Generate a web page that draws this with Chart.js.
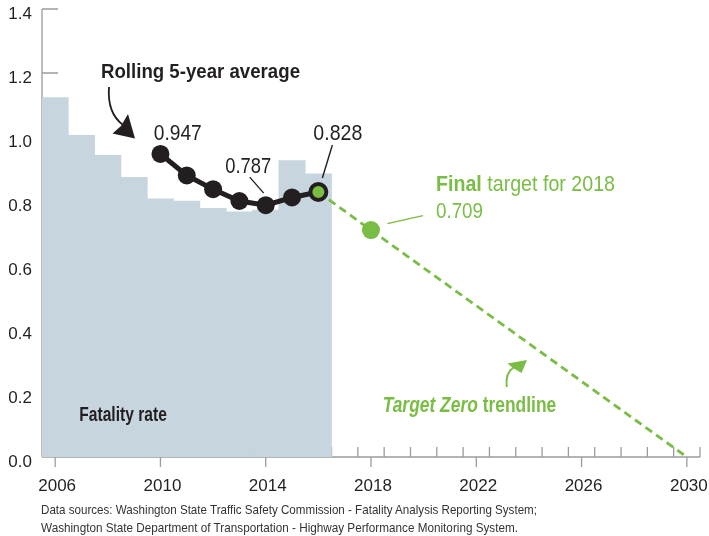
<!DOCTYPE html>
<html>
<head>
<meta charset="utf-8">
<script src="https://cdn.jsdelivr.net/npm/chart.js@4.4.1/dist/chart.umd.min.js"></script>
<style>
html,body{margin:0;padding:0;background:#fff;}
#wrap{position:relative;width:709px;height:536px;overflow:hidden;}
#c{position:absolute;left:0;top:0;}
.note{position:absolute;left:41px;font-family:'Liberation Sans',Arial,sans-serif;font-size:13.5px;color:#333;white-space:nowrap;line-height:1;transform-origin:0 0;}
</style>
</head>
<body>
<div id="wrap">
<canvas id="c" width="709" height="536"></canvas>
<span class="note" id="n1" data-w="496" style="top:503px">Data sources: Washington State Traffic Safety Commission - Fatality Analysis Reporting System;</span>
<span class="note" id="n2" data-w="477" style="top:521px">Washington State Department of Transportation - Highway Performance Monitoring System.</span>
</div>
<script>
// ---- data ----
const years = [2006, 2007, 2008, 2009, 2010, 2011, 2012, 2013, 2014, 2015, 2016];
const fatalityRate = [1.123, 1.005, 0.943, 0.874, 0.807, 0.800, 0.777, 0.766, 0.772, 0.926, 0.885];
const avgYears = [2010, 2011, 2012, 2013, 2014, 2015, 2016];
const rollingAverage = [0.947, 0.880, 0.837, 0.800, 0.787, 0.811, 0.828];
const targetYears = [2016, 2018, 2030];
const targetValues = [0.828, 0.709, 0];
const xTickLabels = [2006, 2010, 2014, 2018, 2022, 2026, 2030];
const yTickValues = [0, 0.2, 0.4, 0.6, 0.8, 1.0, 1.2, 1.4];

// ---- styles ----
const GREEN = '#79bd44';
const DARK = '#231f20';
const BAR = '#c6d5de';
const AXIS = '#9c9c9c';
const SANS = "'Liberation Sans',Arial,Helvetica,sans-serif";

function fitText(ctx, parts, x, y, width, color) {
  let total = 0;
  parts.forEach(p => { ctx.font = p.font; p.w = ctx.measureText(p.text).width; total += p.w; });
  const sx = width / total;
  ctx.save();
  ctx.translate(x, y);
  ctx.scale(sx, 1);
  ctx.fillStyle = color;
  ctx.textAlign = 'left';
  ctx.textBaseline = 'alphabetic';
  let cx = 0;
  parts.forEach(p => { ctx.font = p.font; ctx.fillText(p.text, cx, 0); cx += p.w; });
  ctx.restore();
}

function noPad(s) {
  s.paddingLeft = 0; s.paddingRight = 0; s.paddingTop = 0; s.paddingBottom = 0;
}

const axisPlugin = {
  id: 'axisPlugin',
  beforeDatasetsDraw(chart) {
    const ctx = chart.ctx, xs = chart.scales.x, ys = chart.scales.y;
    const a = chart.chartArea;
    ctx.save();
    ctx.strokeStyle = AXIS;
    ctx.lineWidth = 1.3;
    ctx.beginPath();
    ctx.moveTo(a.left, a.top); ctx.lineTo(a.left, a.bottom);
    yTickValues.forEach(v => { const y = ys.getPixelForValue(v); ctx.moveTo(a.left, y); ctx.lineTo(a.left + 16, y); });
    const y0 = ys.getPixelForValue(0);
    ctx.moveTo(a.left, y0); ctx.lineTo(a.right, y0);
    xTickLabels.forEach(v => { const x = xs.getPixelForValue(v); ctx.moveTo(x, y0); ctx.lineTo(x, y0 + 10); });
    for (let v = xs.min; v <= xs.max + 0.001; v += 1) {
      const x = xs.getPixelForValue(v); ctx.moveTo(x, y0); ctx.lineTo(x, y0 - 10);
    }
    ctx.stroke();
    ctx.restore();
  }
};

const annotationPlugin = {
  id: 'annotationPlugin',
  afterDatasetsDraw(chart) {
    const ctx = chart.ctx, xs = chart.scales.x, ys = chart.scales.y;
    const px = v => xs.getPixelForValue(v), py = v => ys.getPixelForValue(v);
    ctx.save();
    fitText(ctx, [{text: 'Rolling 5-year average', font: 'bold 20.5px ' + SANS}], 101, 78, 199, DARK);
    ctx.strokeStyle = DARK; ctx.fillStyle = DARK; ctx.lineWidth = 1.8;
    ctx.beginPath(); ctx.moveTo(109, 87); ctx.quadraticCurveTo(107, 113, 123, 125); ctx.stroke();
    ctx.beginPath(); ctx.moveTo(135, 138.5); ctx.lineTo(112.5, 133.5); ctx.lineTo(121, 126); ctx.lineTo(128, 114); ctx.closePath(); ctx.fill();

    const first = 0, low = 4, last = rollingAverage.length - 1;
    const lx0 = px(avgYears[first]), ly0 = py(rollingAverage[first]);
    fitText(ctx, [{text: rollingAverage[first].toFixed(3), font: '22px ' + SANS}], lx0 - 6.7, ly0 - 14, 48, DARK);
    const lx1 = px(avgYears[low]), ly1 = py(rollingAverage[low]);
    fitText(ctx, [{text: rollingAverage[low].toFixed(3), font: '22px ' + SANS}], lx1 - 40.5, ly1 - 32, 46, DARK);
    ctx.lineWidth = 1.4; ctx.strokeStyle = DARK;
    ctx.beginPath(); ctx.moveTo(lx1 - 16, ly1 - 28); ctx.lineTo(lx1 - 2, ly1 - 12); ctx.stroke();
    const lx2 = px(avgYears[last]), ly2 = py(rollingAverage[last]);
    fitText(ctx, [{text: rollingAverage[last].toFixed(3), font: '22px ' + SANS}], lx2 - 5, ly2 - 52, 49, DARK);
    ctx.beginPath(); ctx.moveTo(lx2 + 14, ly2 - 47); ctx.lineTo(lx2 + 4, ly2 - 14); ctx.stroke();

    const tx = px(targetYears[1]), ty = py(targetValues[1]);
    fitText(ctx, [{text: 'Final', font: 'bold 22px ' + SANS}, {text: ' target for ' + targetYears[1], font: '22px ' + SANS}], tx + 65, ty - 39, 179, GREEN);
    fitText(ctx, [{text: targetValues[1].toFixed(3), font: '22px ' + SANS}], tx + 65, ty - 12.3, 47, GREEN);
    ctx.strokeStyle = GREEN; ctx.lineWidth = 1.5;
    ctx.beginPath(); ctx.moveTo(tx + 16.5, ty - 6.5); ctx.lineTo(tx + 52, ty - 14.5); ctx.stroke();

    fitText(ctx, [{text: 'Target Zero', font: 'italic bold 22px ' + SANS}, {text: ' trendline', font: 'bold 22px ' + SANS}], 382.7, 411.5, 173.5, GREEN);
    ctx.strokeStyle = GREEN; ctx.fillStyle = GREEN; ctx.lineWidth = 2;
    ctx.beginPath(); ctx.moveTo(506.7, 387); ctx.quadraticCurveTo(505, 373, 513.5, 367.5); ctx.stroke();
    ctx.beginPath(); ctx.moveTo(527, 360); ctx.lineTo(507.5, 363.5); ctx.lineTo(513, 368); ctx.lineTo(521.5, 373); ctx.closePath(); ctx.fill();

    fitText(ctx, [{text: 'Fatality rate', font: 'bold 20px ' + SANS}], 79.3, 421, 87.5, DARK);
    ctx.restore();
  }
};

const ctx = document.getElementById('c').getContext('2d');
const chart = new Chart(ctx, {
  type: 'bar',
  data: {
    datasets: [
      {
        type: 'line',
        label: 'Rolling 5-year average',
        data: avgYears.map((x, i) => ({x, y: rollingAverage[i]})),
        borderColor: DARK,
        borderWidth: 5,
        pointRadius: avgYears.map((x, i) => i === avgYears.length - 1 ? 8 : 9),
        pointBackgroundColor: avgYears.map((x, i) => i === avgYears.length - 1 ? GREEN : DARK),
        pointBorderColor: DARK,
        pointBorderWidth: avgYears.map((x, i) => i === avgYears.length - 1 ? 4 : 0),
        tension: 0,
        order: 1
      },
      {
        type: 'line',
        label: 'Target Zero trendline',
        data: targetYears.map((x, i) => ({x, y: targetValues[i]})),
        borderColor: GREEN,
        borderWidth: 2.8,
        borderDash: [8, 5],
        pointRadius: targetYears.map((x, i) => i === 1 ? 9 : 0),
        pointBackgroundColor: GREEN,
        pointBorderWidth: 0,
        tension: 0,
        order: 2
      },
      {
        type: 'bar',
        label: 'Fatality rate',
        data: years.map((x, i) => ({x, y: fatalityRate[i]})),
        backgroundColor: BAR,
        borderWidth: 0,
        barPercentage: 1,
        categoryPercentage: 1,
        order: 3
      }
    ]
  },
  options: {
    responsive: false,
    animation: false,
    layout: { autoPadding: false, padding: { top: 9, right: 9, left: 0, bottom: 0 } },
    plugins: { legend: { display: false }, tooltip: { enabled: false } },
    scales: {
      x: {
        type: 'linear',
        min: years[0] - 0.5,
        max: xTickLabels[xTickLabels.length - 1] + 0.5,
        offset: false,
        grid: { display: false, drawTicks: false },
        border: { display: false },
        afterBuildTicks: s => { s.ticks = xTickLabels.map(v => ({value: v})); },
        afterFit: s => { s.height = 79; noPad(s); },
        ticks: { font: { family: SANS, size: 17, lineHeight: 1 }, color: DARK, padding: 21, maxRotation: 0, autoSkip: false, labelOffset: 2, callback: v => String(v) }
      },
      y: {
        min: 0,
        max: 1.4,
        grid: { display: false, drawTicks: false },
        border: { display: false },
        afterBuildTicks: s => { s.ticks = yTickValues.map(v => ({value: v})); },
        afterFit: s => { s.width = 42; noPad(s); },
        ticks: { font: { family: SANS, size: 17, lineHeight: 1 }, color: DARK, padding: 10, labelOffset: 5, callback: v => v.toFixed(1) }
      }
    }
  },
  plugins: [axisPlugin, annotationPlugin]
});

document.querySelectorAll('.note').forEach(el => {
  const w = el.getBoundingClientRect().width;
  el.style.transform = 'scaleX(' + (parseFloat(el.dataset.w) / w) + ')';
});
</script>
</body>
</html>
